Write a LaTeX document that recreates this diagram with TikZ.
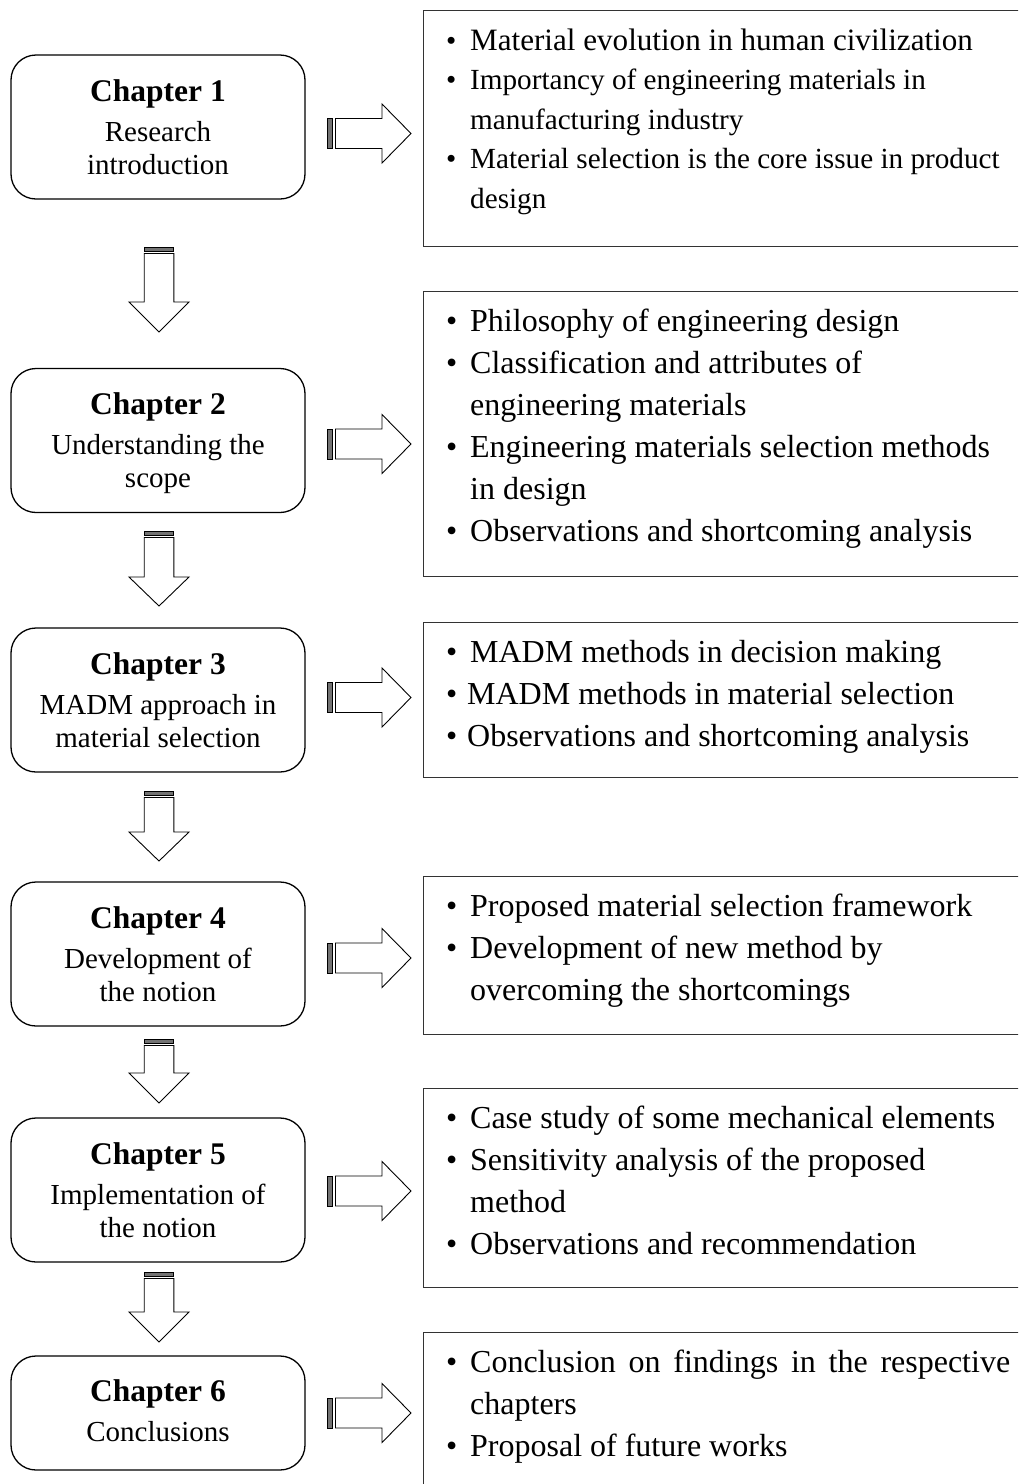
\documentclass[tikz,border=0pt]{standalone}
\usepackage{fontspec}
\setmainfont{Liberation Serif}
\usetikzlibrary{calc}

% bold chapter heading inside the rounded boxes
\newcommand\chaptitle[1]{{\fontsize{31.5}{33}\selectfont\bfseries #1}}

\tikzset{
  chapbox/.style={draw=black, line width=1.3pt, rounded corners=25pt,
    minimum width=294pt, minimum height=144pt, inner sep=0pt},
  chaptext/.style={inner sep=0pt, font=\fontsize{29}{33}\selectfont},
  infobox/.style={draw=black!80, line width=1.3pt, anchor=north west,
    minimum width=620pt, inner sep=0pt},
  infotext/.style={anchor=base west, inner sep=0pt,
    font=\fontsize{32}{42}\selectfont},
  stripe/.style={draw=black, fill=black!55, line width=0.8pt},
  blockarrow/.style={draw=black, fill=white, line width=0.9pt, line join=miter},
}

% striped block arrow pointing down; #1 top centre, #2 head start, #3 tip
\newcommand\stripedown[3]{%
  \begin{scope}[shift={(#1)}]
    \draw[stripe] (-14.8,0) rectangle (14.8,4);
    \draw[blockarrow] (-14.8,6.5) -- (14.8,6.5) -- (14.8,#2) -- (30,#2)
      -- (0,#3) -- (-30,#2) -- (-14.8,#2) -- cycle;
  \end{scope}}

% striped block arrow pointing right; #1 left end on the axis
\newcommand\striperight[1]{%
  \begin{scope}[shift={(#1)}]
    \draw[stripe] (0,-15) rectangle (5,15);
    \draw[blockarrow] (8.5,-15) -- (55,-15) -- (55,-29.5) -- (84,0)
      -- (55,29.5) -- (55,15) -- (8.5,15) -- cycle;
  \end{scope}}

\begin{document}
\begin{tikzpicture}[x=1pt, y=-1pt]
  \clip (0,0) rectangle (1018,1484);
  \fill[white] (0,0) rectangle (1018,1484);

  % ---- chapter boxes ----
  \node[chapbox] (c1) at (158,127) {};
  \node[chapbox] (c2) at (158,440.5) {};
  \node[chapbox] (c3) at (158,700) {};
  \node[chapbox] (c4) at (158,954) {};
  \node[chapbox] (c5) at (158,1190) {};
  \node[chapbox, minimum height=114pt] (c6) at (158,1413) {};

  \node[chaptext] (c1t) at ($(c1)+(0,4)$) {\begin{tabular}{@{}c@{}}\chaptitle{Chapter 1}\\[7pt] Research\\ introduction\end{tabular}};
  \node[chaptext] (c2t) at ($(c2)+(0,4)$) {\begin{tabular}{@{}c@{}}\chaptitle{Chapter 2}\\[7pt] Understanding the\\ scope\end{tabular}};
  \node[chaptext] (c3t) at ($(c3)+(0,4)$) {\begin{tabular}{@{}c@{}}\chaptitle{Chapter 3}\\[7pt] MADM approach in\\ material selection\end{tabular}};
  \node[chaptext] (c4t) at ($(c4)+(0,4)$) {\begin{tabular}{@{}c@{}}\chaptitle{Chapter 4}\\[7pt] Development of\\ the notion\end{tabular}};
  \node[chaptext] (c5t) at ($(c5)+(0,4)$) {\begin{tabular}{@{}c@{}}\chaptitle{Chapter 5}\\[7pt] Implementation of\\ the notion\end{tabular}};
  \node[chaptext] (c6t) at ($(c6)+(0,2)$) {\begin{tabular}{@{}c@{}}\chaptitle{Chapter 6}\\[7pt] Conclusions\end{tabular}};

  % ---- content boxes ----
  \node[infobox, minimum height=236pt] (r1) at (423,10) {};
  \node[infobox, minimum height=285pt] (r2) at (423,291) {};
  \node[infobox, minimum height=155pt] (r3) at (423,622) {};
  \node[infobox, minimum height=158pt] (r4) at (423,876) {};
  \node[infobox, minimum height=199pt] (r5) at (423,1088) {};
  \node[infobox, minimum height=200pt] (r6) at (423,1332) {};

  \node[infotext, font=\fontsize{29.2}{39.5}\selectfont] (t1) at ($(r1.north west)+(23,40)$) {%
    \begin{tabular}[t]{@{}p{24pt}@{}l@{}}
    \textbullet & {\fontsize{31.1}{39.5}\selectfont Material evolution in human civilization}\\
    \textbullet & Importancy of engineering materials in\\
                & manufacturing industry\\
    \textbullet & Material selection is the core issue in product\\
                & design
    \end{tabular}};
  \node[infotext] (t2) at ($(r2.north west)+(23,40)$) {%
    \begin{tabular}[t]{@{}p{24pt}@{}l@{}}
    \textbullet & Philosophy of engineering design\\
    \textbullet & Classification and attributes of\\
                & engineering materials\\
    \textbullet & Engineering materials selection methods\\
                & in design\\
    \textbullet & Observations and shortcoming analysis
    \end{tabular}};
  \node[infotext] (t3) at ($(r3.north west)+(23,40)$) {%
    \begin{tabular}[t]{@{}p{24pt}@{}l@{}}
    \textbullet & MADM methods in decision making\\
    \textbullet & \hspace{-3pt}MADM methods in material selection\\
    \textbullet & \hspace{-3pt}Observations and shortcoming analysis
    \end{tabular}};
  \node[infotext] (t4) at ($(r4.north west)+(23,40)$) {%
    \begin{tabular}[t]{@{}p{24pt}@{}l@{}}
    \textbullet & Proposed material selection framework\\
    \textbullet & Development of new method by\\
                & overcoming the shortcomings
    \end{tabular}};
  \node[infotext] (t5) at ($(r5.north west)+(23,40)$) {%
    \begin{tabular}[t]{@{}p{24pt}@{}l@{}}
    \textbullet & Case study of some mechanical elements\\
    \textbullet & Sensitivity analysis of the proposed\\
                & method\\
    \textbullet & Observations and recommendation
    \end{tabular}};
  \node[infotext] (t6) at ($(r6.north west)+(23,40)$) {%
    \begin{tabular}[t]{@{}p{24pt}@{}l@{}}
    \textbullet & \makebox[540pt][s]{Conclusion on findings in the respective}\\
                & chapters\\
    \textbullet & Proposal of future works
    \end{tabular}};

  % ---- arrows between chapters ----
  \coordinate (d1) at (159,247);
  \coordinate (d2) at (159,531);
  \coordinate (d3) at (159,791);
  \coordinate (d4) at (159,1039);
  \coordinate (d5) at (159,1272);
  \stripedown{d1}{55}{85}
  \stripedown{d2}{46}{75}
  \stripedown{d3}{41}{70}
  \stripedown{d4}{34}{64}
  \stripedown{d5}{40}{70}

  % ---- arrows from chapters to their contents ----
  \coordinate (a1) at (327,133.5);
  \coordinate (a2) at (327,444);
  \coordinate (a3) at (327,697.5);
  \coordinate (a4) at (327,958);
  \coordinate (a5) at (327,1191);
  \coordinate (a6) at (327,1413);
  \foreach \a in {a1,a2,a3,a4,a5,a6} {\striperight{\a}}
\end{tikzpicture}
\end{document}
